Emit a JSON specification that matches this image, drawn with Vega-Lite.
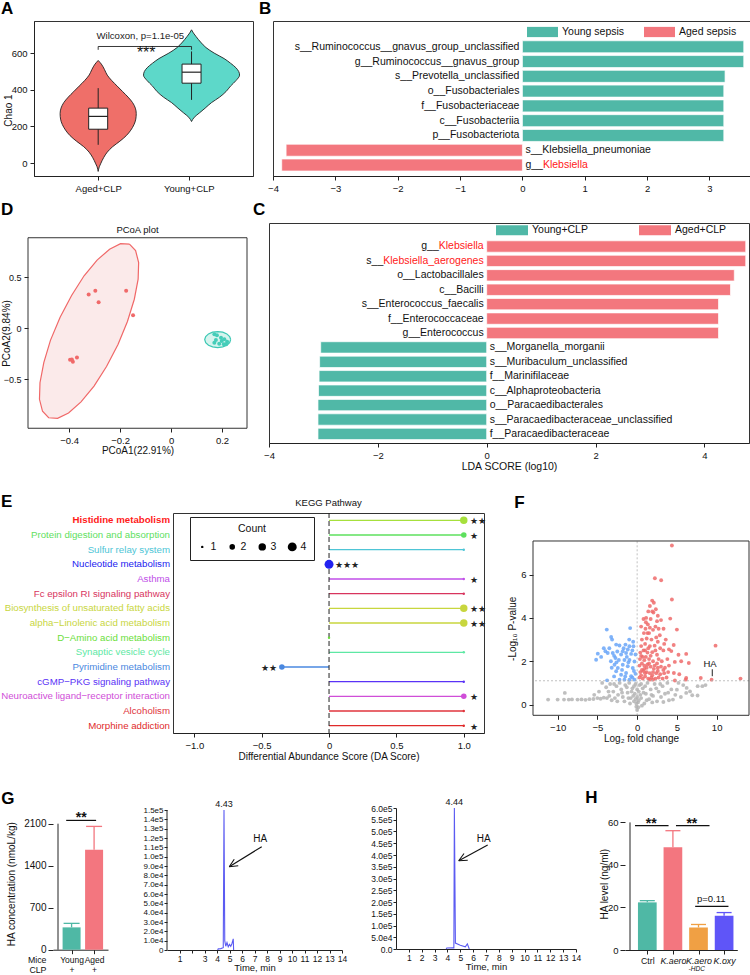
{
"$schema":"https://vega.github.io/schema/vega-lite/v6.json",
"background":"white",
"padding":{"left":0,"top":0,"right":0,"bottom":0},
"bounds":"full",
"spacing":0,
"resolve":{"scale":{"color":"independent","size":"independent"},"legend":{"color":"independent","size":"independent"}},
"config":{
 "font":"Liberation Sans",
 "view":{"stroke":null},
 "axis":{"labelFont":"Liberation Sans","titleFont":"Liberation Sans","labelFontSize":9.5,"titleFontSize":10,"titleFontWeight":"normal","labelColor":"#111","titleColor":"#111","tickColor":"#222","domainColor":"#222","grid":false,"tickSize":4,"labelPadding":3,"titlePadding":3,"labelOverlap":false,"tickCount":40},
 "legend":{"labelFont":"Liberation Sans","titleFont":"Liberation Sans","labelColor":"#111","titleColor":"#111"},
 "title":{"font":"Liberation Sans","fontSize":17,"fontWeight":"bold","anchor":"start","frame":"group","baseline":"alphabetic","color":"#000","offset":3}
},
"datasets":{
 "violinA":[
  {"grp":"Aged","v":-45,"lo":1,"hi":1},{"grp":"Aged","v":-20,"lo":0.988,"hi":1.012},{"grp":"Aged","v":0,"lo":0.97,"hi":1.03},{"grp":"Aged","v":30,"lo":0.94,"hi":1.06},{"grp":"Aged","v":60,"lo":0.9,"hi":1.1},{"grp":"Aged","v":90,"lo":0.84,"hi":1.16},{"grp":"Aged","v":120,"lo":0.76,"hi":1.24},{"grp":"Aged","v":150,"lo":0.69,"hi":1.31},{"grp":"Aged","v":180,"lo":0.64,"hi":1.36},{"grp":"Aged","v":210,"lo":0.605,"hi":1.395},{"grp":"Aged","v":240,"lo":0.585,"hi":1.415},{"grp":"Aged","v":270,"lo":0.58,"hi":1.42},{"grp":"Aged","v":300,"lo":0.59,"hi":1.41},{"grp":"Aged","v":330,"lo":0.62,"hi":1.38},{"grp":"Aged","v":360,"lo":0.67,"hi":1.33},{"grp":"Aged","v":390,"lo":0.73,"hi":1.27},{"grp":"Aged","v":420,"lo":0.79,"hi":1.21},{"grp":"Aged","v":450,"lo":0.85,"hi":1.15},{"grp":"Aged","v":480,"lo":0.9,"hi":1.1},{"grp":"Aged","v":510,"lo":0.93,"hi":1.07},{"grp":"Aged","v":540,"lo":0.965,"hi":1.035},{"grp":"Aged","v":560,"lo":1,"hi":1},
  {"grp":"Young","v":227,"lo":2.03,"hi":2.03},{"grp":"Young","v":250,"lo":2.0,"hi":2.06},{"grp":"Young","v":275,"lo":1.94,"hi":2.12},{"grp":"Young","v":300,"lo":1.88,"hi":2.18},{"grp":"Young","v":330,"lo":1.81,"hi":2.25},{"grp":"Young","v":360,"lo":1.72,"hi":2.34},{"grp":"Young","v":390,"lo":1.65,"hi":2.41},{"grp":"Young","v":420,"lo":1.6,"hi":2.46},{"grp":"Young","v":450,"lo":1.54,"hi":2.52},{"grp":"Young","v":480,"lo":1.5,"hi":2.56},{"grp":"Young","v":500,"lo":1.51,"hi":2.55},{"grp":"Young","v":520,"lo":1.54,"hi":2.52},{"grp":"Young","v":545,"lo":1.6,"hi":2.46},{"grp":"Young","v":570,"lo":1.67,"hi":2.39},{"grp":"Young","v":600,"lo":1.78,"hi":2.28},{"grp":"Young","v":630,"lo":1.87,"hi":2.19},{"grp":"Young","v":660,"lo":1.93,"hi":2.13},{"grp":"Young","v":690,"lo":1.98,"hi":2.08},{"grp":"Young","v":710,"lo":2.01,"hi":2.05},{"grp":"Young","v":727,"lo":2.03,"hi":2.03}
 ],
 "boxA":[{"gx":1,"q1":185,"q3":300,"med":255,"wlo":100,"whi":409},{"gx":2.03,"q1":436,"q3":540,"med":496,"wlo":345,"whi":609}],
 "bracketA":[{"bx":1,"by":618,"k":1},{"bx":1,"by":636,"k":2},{"bx":2.03,"by":636,"k":3},{"bx":2.03,"by":618,"k":4}],
 "ldaB":[
  {"taxon":"s__Ruminococcus__gnavus_group_unclassified","lda":3.55,"grp":"Young sepsis"},
  {"taxon":"g__Ruminococcus__gnavus_group","lda":3.55,"grp":"Young sepsis"},
  {"taxon":"s__Prevotella_unclassified","lda":3.25,"grp":"Young sepsis"},
  {"taxon":"o__Fusobacteriales","lda":3.23,"grp":"Young sepsis"},
  {"taxon":"f__Fusobacteriaceae","lda":3.23,"grp":"Young sepsis"},
  {"taxon":"c__Fusobacteriia","lda":3.23,"grp":"Young sepsis"},
  {"taxon":"p__Fusobacteriota","lda":3.23,"grp":"Young sepsis"},
  {"taxon":"s__Klebsiella_pneumoniae","lda":-3.79,"grp":"Aged sepsis"},
  {"taxon":"g__Klebsiella","lda":-3.86,"grp":"Aged sepsis"}
 ],
 "ldaC":[
  {"taxon":"g__Klebsiella","lda":4.76,"grp":"Aged+CLP"},
  {"taxon":"s__Klebsiella_aerogenes","lda":4.76,"grp":"Aged+CLP"},
  {"taxon":"o__Lactobacillales","lda":4.55,"grp":"Aged+CLP"},
  {"taxon":"c__Bacilli","lda":4.48,"grp":"Aged+CLP"},
  {"taxon":"s__Enterococcus_faecalis","lda":4.26,"grp":"Aged+CLP"},
  {"taxon":"f__Enterococcaceae","lda":4.26,"grp":"Aged+CLP"},
  {"taxon":"g__Enterococcus","lda":4.26,"grp":"Aged+CLP"},
  {"taxon":"s__Morganella_morganii","lda":-3.05,"grp":"Young+CLP"},
  {"taxon":"s__Muribaculum_unclassified","lda":-3.07,"grp":"Young+CLP"},
  {"taxon":"f__Marinifilaceae","lda":-3.08,"grp":"Young+CLP"},
  {"taxon":"c__Alphaproteobacteria","lda":-3.09,"grp":"Young+CLP"},
  {"taxon":"o__Paracaedibacterales","lda":-3.1,"grp":"Young+CLP"},
  {"taxon":"s__Paracaedibacteraceae_unclassified","lda":-3.1,"grp":"Young+CLP"},
  {"taxon":"f__Paracaedibacteraceae","lda":-3.1,"grp":"Young+CLP"}
 ],
 "ellRed":[
  {"i":0,"x":-0.163,"y":0.822},{"i":1,"x":-0.198,"y":0.827},{"i":2,"x":-0.241,"y":0.773},{"i":3,"x":-0.29,"y":0.666},{"i":4,"x":-0.341,"y":0.513},{"i":5,"x":-0.39,"y":0.321},{"i":6,"x":-0.435,"y":0.107},{"i":7,"x":-0.473,"y":-0.118},{"i":8,"x":-0.499,"y":-0.335},{"i":9,"x":-0.514,"y":-0.532},{"i":10,"x":-0.516,"y":-0.694},{"i":11,"x":-0.504,"y":-0.811},{"i":12,"x":-0.48,"y":-0.874},{"i":13,"x":-0.445,"y":-0.88},{"i":14,"x":-0.402,"y":-0.827},{"i":15,"x":-0.353,"y":-0.719},{"i":16,"x":-0.302,"y":-0.565},{"i":17,"x":-0.253,"y":-0.374},{"i":18,"x":-0.208,"y":-0.159},{"i":19,"x":-0.171,"y":0.066},{"i":20,"x":-0.144,"y":0.284},{"i":21,"x":-0.129,"y":0.481},{"i":22,"x":-0.127,"y":0.642},{"i":23,"x":-0.139,"y":0.76},{"i":24,"x":-0.163,"y":0.822}
 ],
 "ellTeal":[
  {"i":0,"x":0.234,"y":-0.11},{"i":1,"x":0.23,"y":-0.08},{"i":2,"x":0.219,"y":-0.055},{"i":3,"x":0.203,"y":-0.038},{"i":4,"x":0.183,"y":-0.032},{"i":5,"x":0.163,"y":-0.038},{"i":6,"x":0.147,"y":-0.055},{"i":7,"x":0.136,"y":-0.08},{"i":8,"x":0.132,"y":-0.11},{"i":9,"x":0.136,"y":-0.14},{"i":10,"x":0.147,"y":-0.165},{"i":11,"x":0.163,"y":-0.182},{"i":12,"x":0.183,"y":-0.188},{"i":13,"x":0.203,"y":-0.182},{"i":14,"x":0.219,"y":-0.165},{"i":15,"x":0.23,"y":-0.14},{"i":16,"x":0.234,"y":-0.11}
 ],
 "pcoa":[
  {"g":"Aged","x":-0.323,"y":0.33},{"g":"Aged","x":-0.297,"y":0.366},{"g":"Aged","x":-0.284,"y":0.255},{"g":"Aged","x":-0.176,"y":0.366},{"g":"Aged","x":-0.149,"y":0.127},{"g":"Aged","x":-0.396,"y":-0.308},{"g":"Aged","x":-0.385,"y":-0.328},{"g":"Aged","x":-0.369,"y":-0.285},{"g":"Aged","x":-0.389,"y":-0.304},
  {"g":"Young","x":0.17,"y":-0.059},{"g":"Young","x":0.18,"y":-0.069},{"g":"Young","x":0.196,"y":-0.092},{"g":"Young","x":0.176,"y":-0.114},{"g":"Young","x":0.199,"y":-0.124},{"g":"Young","x":0.209,"y":-0.108},{"g":"Young","x":0.22,"y":-0.131},{"g":"Young","x":0.207,"y":-0.157},{"g":"Young","x":0.189,"y":-0.15},{"g":"Young","x":0.17,"y":-0.141},{"g":"Young","x":0.216,"y":-0.157}
 ],
 "kegg":[
  {"path":"Histidine metabolism","da":1,"count":3,"sig":"★★"},
  {"path":"Protein digestion and absorption","da":1,"count":2,"sig":"★"},
  {"path":"Sulfur relay system","da":1,"count":1,"sig":""},
  {"path":"Nucleotide metabolism","da":0,"count":4,"sig":"★★★"},
  {"path":"Asthma","da":1,"count":1,"sig":"★"},
  {"path":"Fc epsilon RI signaling pathway","da":1,"count":1,"sig":""},
  {"path":"Biosynthesis of unsaturated fatty acids","da":1,"count":3,"sig":"★★"},
  {"path":"alpha−Linolenic acid metabolism","da":1,"count":3,"sig":"★★"},
  {"path":"D−Amino acid metabolism","da":0,"count":1,"sig":""},
  {"path":"Synaptic vesicle cycle","da":1,"count":1,"sig":""},
  {"path":"Pyrimidine metabolism","da":-0.35,"count":2,"sig":"★★"},
  {"path":"cGMP−PKG signaling pathway","da":1,"count":1,"sig":""},
  {"path":"Neuroactive ligand−receptor interaction","da":1,"count":2,"sig":"★"},
  {"path":"Alcoholism","da":1,"count":1,"sig":""},
  {"path":"Morphine addiction","da":1,"count":1,"sig":"★"}
 ],
 "volcano":[
  {"x":-11.2,"y":0.23,"s":"ns"},{"x":-10.0,"y":0.23,"s":"ns"},{"x":-9.1,"y":0.54,"s":"ns"},{"x":-9.2,"y":0.23,"s":"ns"},{"x":-8.6,"y":0.23,"s":"ns"},{"x":-8.2,"y":0.24,"s":"ns"},{"x":-7.5,"y":0.23,"s":"ns"},{"x":-7.0,"y":0.24,"s":"ns"},{"x":-6.5,"y":0.22,"s":"ns"},{"x":-6.0,"y":0.25,"s":"ns"},{"x":-5.5,"y":0.26,"s":"ns"},{"x":-5.0,"y":0.3,"s":"ns"},{"x":-4.6,"y":0.27,"s":"ns"},{"x":-4.2,"y":0.32,"s":"ns"},{"x":-3.8,"y":0.3,"s":"ns"},{"x":-3.5,"y":0.4,"s":"ns"},{"x":-5.4,"y":0.45,"s":"ns"},{"x":-4.8,"y":0.6,"s":"ns"},{"x":-3.9,"y":0.8,"s":"ns"},{"x":-3.4,"y":0.95,"s":"ns"},{"x":-3.0,"y":0.6,"s":"ns"},{"x":-2.6,"y":0.85,"s":"ns"},{"x":-2.2,"y":1.0,"s":"ns"},{"x":-2.8,"y":0.3,"s":"ns"},{"x":-2.4,"y":0.45,"s":"ns"},{"x":-2.0,"y":0.7,"s":"ns"},{"x":-1.8,"y":0.35,"s":"ns"},{"x":-1.5,"y":0.9,"s":"ns"},{"x":-1.2,"y":0.55,"s":"ns"},{"x":-1.0,"y":1.0,"s":"ns"},{"x":-0.8,"y":0.3,"s":"ns"},{"x":-0.6,"y":0.75,"s":"ns"},{"x":-0.4,"y":0.15,"s":"ns"},{"x":-0.3,"y":0.5,"s":"ns"},{"x":-0.2,"y":0.95,"s":"ns"},{"x":-0.1,"y":-0.1,"s":"ns"},{"x":0.0,"y":-0.25,"s":"ns"},{"x":0.1,"y":0.1,"s":"ns"},{"x":0.2,"y":0.6,"s":"ns"},{"x":0.3,"y":0.9,"s":"ns"},{"x":0.5,"y":0.3,"s":"ns"},{"x":0.7,"y":0.75,"s":"ns"},{"x":0.9,"y":0.05,"s":"ns"},{"x":1.1,"y":0.5,"s":"ns"},{"x":1.3,"y":1.0,"s":"ns"},{"x":1.5,"y":0.25,"s":"ns"},{"x":1.7,"y":0.7,"s":"ns"},{"x":2.0,"y":0.4,"s":"ns"},{"x":2.2,"y":0.95,"s":"ns"},{"x":2.5,"y":0.15,"s":"ns"},{"x":2.7,"y":0.6,"s":"ns"},{"x":3.0,"y":0.35,"s":"ns"},{"x":3.2,"y":0.85,"s":"ns"},{"x":3.5,"y":0.5,"s":"ns"},{"x":3.8,"y":1.0,"s":"ns"},{"x":4.0,"y":0.2,"s":"ns"},{"x":4.3,"y":0.7,"s":"ns"},{"x":4.5,"y":0.23,"s":"ns"},{"x":4.8,"y":0.45,"s":"ns"},{"x":5.0,"y":0.69,"s":"ns"},{"x":5.5,"y":0.35,"s":"ns"},{"x":5.8,"y":0.9,"s":"ns"},{"x":6.17,"y":0.54,"s":"ns"},{"x":6.23,"y":0.77,"s":"ns"},{"x":6.65,"y":0.61,"s":"ns"},{"x":6.93,"y":0.43,"s":"ns"},{"x":7.6,"y":0.42,"s":"ns"},{"x":7.61,"y":0.85,"s":"ns"},{"x":8.2,"y":0.85,"s":"ns"},{"x":8.6,"y":0.9,"s":"ns"},{"x":-1.6,"y":0.15,"s":"ns"},{"x":-0.9,"y":0.05,"s":"ns"},{"x":0.6,"y":-0.05,"s":"ns"},{"x":1.9,"y":0.1,"s":"ns"},{"x":-2.5,"y":0.15,"s":"ns"},{"x":3.3,"y":0.12,"s":"ns"},{"x":-3.2,"y":0.2,"s":"ns"},{"x":2.4,"y":0.75,"s":"ns"},{"x":-0.5,"y":0.4,"s":"ns"},{"x":0.4,"y":0.45,"s":"ns"},{"x":1.0,"y":0.85,"s":"ns"},{"x":-1.3,"y":0.8,"s":"ns"},{"x":5.2,"y":1.0,"s":"ns"},{"x":-4.4,"y":1.0,"s":"ns"},{"x":-0.2,"y":0.25,"s":"ns"},{"x":0.2,"y":0.2,"s":"ns"},{"x":-0.7,"y":0.6,"s":"ns"},{"x":0.8,"y":0.55,"s":"ns"},{"x":-1.1,"y":0.3,"s":"ns"},{"x":1.2,"y":0.2,"s":"ns"},{"x":-0.4,"y":0.85,"s":"ns"},{"x":0.5,"y":0.95,"s":"ns"},{"x":-2.9,"y":0.95,"s":"ns"},{"x":2.9,"y":0.95,"s":"ns"},{"x":-1.9,"y":0.55,"s":"ns"},{"x":1.8,"y":0.45,"s":"ns"},{"x":3.9,"y":0.55,"s":"ns"},{"x":-3.6,"y":0.6,"s":"ns"},{"x":0.0,"y":0.35,"s":"ns"},{"x":0.0,"y":0.7,"s":"ns"},{"x":-0.1,"y":0.05,"s":"ns"},{"x":0.15,"y":-0.12,"s":"ns"},
  {"x":-3.82,"y":3.46,"s":"down"},{"x":-0.88,"y":3.53,"s":"down"},{"x":-3.27,"y":3.12,"s":"down"},{"x":-3.15,"y":3.0,"s":"down"},{"x":-2.64,"y":2.77,"s":"down"},{"x":-2.22,"y":2.73,"s":"down"},{"x":-1.47,"y":2.77,"s":"down"},{"x":-0.97,"y":2.69,"s":"down"},{"x":-0.46,"y":2.69,"s":"down"},{"x":-4.95,"y":2.35,"s":"down"},{"x":-4.53,"y":2.2,"s":"down"},{"x":-5.16,"y":2.07,"s":"down"},{"x":-3.99,"y":2.46,"s":"down"},{"x":-3.7,"y":2.38,"s":"down"},{"x":-2.73,"y":2.15,"s":"down"},{"x":-2.02,"y":2.31,"s":"down"},{"x":-1.39,"y":2.38,"s":"down"},{"x":-0.76,"y":2.34,"s":"down"},{"x":-0.21,"y":2.31,"s":"down"},{"x":-2.85,"y":1.84,"s":"down"},{"x":-2.43,"y":1.69,"s":"down"},{"x":-1.81,"y":1.84,"s":"down"},{"x":-1.18,"y":1.77,"s":"down"},{"x":-0.55,"y":1.69,"s":"down"},{"x":-2.64,"y":1.54,"s":"down"},{"x":-2.02,"y":1.38,"s":"down"},{"x":-1.39,"y":1.46,"s":"down"},{"x":-0.76,"y":1.31,"s":"down"},{"x":-0.21,"y":1.42,"s":"down"},{"x":-3.78,"y":1.12,"s":"down"},{"x":-2.22,"y":1.15,"s":"down"},{"x":-1.6,"y":1.15,"s":"down"},{"x":-0.97,"y":1.15,"s":"down"},{"x":-0.34,"y":1.15,"s":"down"},{"x":-1.81,"y":2.46,"s":"down"},{"x":-1.18,"y":2.54,"s":"down"},{"x":-2.3,"y":2.06,"s":"down"},{"x":-1.6,"y":2.06,"s":"down"},{"x":-0.97,"y":2.06,"s":"down"},{"x":-0.34,"y":1.99,"s":"down"},{"x":-3.07,"y":2.38,"s":"down"},{"x":-3.5,"y":2.6,"s":"down"},{"x":-1.0,"y":3.0,"s":"down"},{"x":-0.5,"y":2.9,"s":"down"},{"x":-1.7,"y":2.6,"s":"down"},{"x":-2.5,"y":2.45,"s":"down"},{"x":-0.6,"y":2.5,"s":"down"},{"x":-1.3,"y":2.2,"s":"down"},{"x":-2.9,"y":2.25,"s":"down"},{"x":-1.9,"y":1.6,"s":"down"},{"x":-0.4,"y":1.55,"s":"down"},{"x":-1.1,"y":1.95,"s":"down"},{"x":-2.6,"y":1.95,"s":"down"},{"x":-3.2,"y":1.7,"s":"down"},{"x":-1.5,"y":1.3,"s":"down"},{"x":-2.9,"y":1.3,"s":"down"},{"x":-0.6,"y":1.25,"s":"down"},{"x":-4.2,"y":2.6,"s":"down"},{"x":-3.3,"y":2.0,"s":"down"},
  {"x":4.37,"y":7.34,"s":"up"},{"x":2.23,"y":5.83,"s":"up"},{"x":3.02,"y":5.74,"s":"up"},{"x":4.37,"y":4.85,"s":"up"},{"x":1.89,"y":4.8,"s":"up"},{"x":2.1,"y":4.7,"s":"up"},{"x":1.6,"y":4.55,"s":"up"},{"x":2.35,"y":4.4,"s":"up"},{"x":2.05,"y":4.25,"s":"up"},{"x":1.13,"y":4.0,"s":"up"},{"x":4.16,"y":3.97,"s":"up"},{"x":2.5,"y":3.85,"s":"up"},{"x":1.7,"y":3.95,"s":"up"},{"x":1.35,"y":3.7,"s":"up"},{"x":5.0,"y":3.46,"s":"up"},{"x":3.32,"y":3.5,"s":"up"},{"x":2.85,"y":3.2,"s":"up"},{"x":1.05,"y":3.5,"s":"up"},{"x":0.85,"y":3.3,"s":"up"},{"x":1.5,"y":3.3,"s":"up"},{"x":2.0,"y":3.45,"s":"up"},{"x":2.4,"y":3.1,"s":"up"},{"x":3.6,"y":3.0,"s":"up"},{"x":0.6,"y":3.0,"s":"up"},{"x":1.2,"y":3.05,"s":"up"},{"x":1.8,"y":3.0,"s":"up"},{"x":9.86,"y":2.72,"s":"up"},{"x":0.5,"y":2.7,"s":"up"},{"x":1.0,"y":2.8,"s":"up"},{"x":1.6,"y":2.7,"s":"up"},{"x":2.2,"y":2.72,"s":"up"},{"x":2.9,"y":2.6,"s":"up"},{"x":3.3,"y":2.5,"s":"up"},{"x":4.3,"y":2.47,"s":"up"},{"x":6.17,"y":2.34,"s":"up"},{"x":0.4,"y":2.4,"s":"up"},{"x":0.8,"y":2.5,"s":"up"},{"x":1.3,"y":2.4,"s":"up"},{"x":1.9,"y":2.42,"s":"up"},{"x":2.5,"y":2.3,"s":"up"},{"x":0.35,"y":2.1,"s":"up"},{"x":0.7,"y":2.2,"s":"up"},{"x":1.1,"y":2.2,"s":"up"},{"x":1.5,"y":2.1,"s":"up"},{"x":2.0,"y":2.0,"s":"up"},{"x":2.7,"y":2.1,"s":"up"},{"x":3.1,"y":2.0,"s":"up"},{"x":3.8,"y":2.1,"s":"up"},{"x":4.74,"y":1.97,"s":"up"},{"x":5.54,"y":2.0,"s":"up"},{"x":6.5,"y":1.92,"s":"up"},{"x":0.3,"y":1.8,"s":"up"},{"x":0.6,"y":1.9,"s":"up"},{"x":0.9,"y":1.8,"s":"up"},{"x":1.3,"y":1.85,"s":"up"},{"x":1.7,"y":1.75,"s":"up"},{"x":2.2,"y":1.8,"s":"up"},{"x":2.6,"y":1.7,"s":"up"},{"x":3.0,"y":1.75,"s":"up"},{"x":3.5,"y":1.7,"s":"up"},{"x":4.0,"y":1.8,"s":"up"},{"x":0.4,"y":1.5,"s":"up"},{"x":0.8,"y":1.55,"s":"up"},{"x":1.2,"y":1.5,"s":"up"},{"x":1.6,"y":1.45,"s":"up"},{"x":2.0,"y":1.5,"s":"up"},{"x":2.4,"y":1.45,"s":"up"},{"x":2.9,"y":1.4,"s":"up"},{"x":3.4,"y":1.45,"s":"up"},{"x":3.9,"y":1.5,"s":"up"},{"x":4.62,"y":1.46,"s":"up"},{"x":0.3,"y":1.25,"s":"up"},{"x":0.7,"y":1.2,"s":"up"},{"x":1.0,"y":1.3,"s":"up"},{"x":1.4,"y":1.2,"s":"up"},{"x":1.8,"y":1.25,"s":"up"},{"x":2.3,"y":1.2,"s":"up"},{"x":2.7,"y":1.25,"s":"up"},{"x":3.2,"y":1.2,"s":"up"},{"x":3.7,"y":1.25,"s":"up"},{"x":4.75,"y":1.11,"s":"up"},{"x":6.17,"y":1.23,"s":"up"},{"x":6.1,"y":1.15,"s":"up"},{"x":8.0,"y":1.23,"s":"up"},{"x":9.36,"y":1.15,"s":"up"},{"x":13.0,"y":1.2,"s":"up"},{"x":5.3,"y":1.4,"s":"up"},{"x":0.5,"y":3.6,"s":"up"},{"x":0.8,"y":3.95,"s":"up"},{"x":1.9,"y":4.3,"s":"up"},{"x":1.4,"y":4.3,"s":"up"},{"x":2.6,"y":4.1,"s":"up"},{"x":1.0,"y":2.5,"s":"up"},{"x":1.4,"y":2.6,"s":"up"},{"x":1.7,"y":2.25,"s":"up"},{"x":2.3,"y":2.5,"s":"up"},{"x":0.5,"y":2.25,"s":"up"},{"x":0.9,"y":2.05,"s":"up"},{"x":1.2,"y":1.7,"s":"up"},{"x":1.5,"y":1.9,"s":"up"},{"x":2.1,"y":1.65,"s":"up"},{"x":2.5,"y":1.9,"s":"up"},{"x":0.6,"y":1.6,"s":"up"},{"x":1.0,"y":1.45,"s":"up"},{"x":1.9,"y":1.35,"s":"up"},{"x":2.6,"y":1.55,"s":"up"},{"x":3.3,"y":1.6,"s":"up"},{"x":1.6,"y":1.15,"s":"up"},{"x":2.0,"y":1.15,"s":"up"},{"x":0.5,"y":1.35,"s":"up"},{"x":0.9,"y":1.65,"s":"up"},{"x":1.1,"y":3.8,"s":"up"},{"x":1.6,"y":3.55,"s":"up"},{"x":2.3,"y":3.6,"s":"up"},{"x":2.7,"y":3.5,"s":"up"},{"x":3.0,"y":3.9,"s":"up"},{"x":1.3,"y":3.3,"s":"up"},{"x":2.6,"y":2.9,"s":"up"},{"x":3.4,"y":2.8,"s":"up"},{"x":4.6,"y":2.75,"s":"up"},{"x":5.2,"y":2.3,"s":"up"},{"x":4.0,"y":2.55,"s":"up"}
 ],
 "gbar":[{"grp":"Young","gx":1,"conc":372,"hi":439},{"grp":"Aged","gx":2,"conc":1666,"hi":2055}],
 "chrom1":[{"t":4.05,"a":0},{"t":4.1,"a":1200},{"t":4.3,"a":1500},{"t":4.5,"a":2500},{"t":4.56,"a":150000},{"t":4.62,"a":10000},{"t":4.7,"a":4000},{"t":4.8,"a":8000},{"t":4.9,"a":3500},{"t":5.0,"a":6000},{"t":5.1,"a":4000},{"t":5.2,"a":7000},{"t":5.3,"a":12000},{"t":5.33,"a":0}],
 "chrom2":[{"t":3.9,"a":0},{"t":3.95,"a":4000},{"t":4.4,"a":5000},{"t":4.5,"a":5000},{"t":4.54,"a":600000},{"t":4.62,"a":25000},{"t":5.0,"a":16000},{"t":5.39,"a":9000},{"t":5.55,"a":22000},{"t":5.7,"a":0}],
 "arrow1":[{"x":7.58,"y":110680,"x2":4.98,"y2":89250},{"x":4.98,"y":89250,"x2":5.7,"y2":90320},{"x":4.98,"y":89250,"x2":5.38,"y2":97290}],
 "arrow2":[{"x":7.13,"y":442500,"x2":4.88,"y2":375700},{"x":4.88,"y":375700,"x2":5.58,"y2":377800},{"x":4.88,"y":375700,"x2":5.29,"y2":406400}],
 "hbar":[{"grp":"Ctrl","hx":1,"v":22.4,"hi":23.2},{"grp":"K.aero","hx":2,"v":48.3,"hi":56.1},{"grp":"K.aero-HDC","hx":3,"v":10.6,"hi":12.0},{"grp":"K.oxy","hx":4,"v":16.1,"hi":17.6}],
 "hbrk":[{"x1":0.52,"x2":1.83,"y":58.5,"m":1.15,"lab":"**"},{"x1":2.12,"x2":3.43,"y":58.5,"m":2.74,"lab":"**"}]
},
"vconcat":[
 {"hconcat":[
  {"data":{"values":[]},"mark":"point","width":6,"height":1,"title":{"text":"A","dx":-27,"offset":3}},
  {"width":219,"height":155,"view":{"stroke":"#333","strokeWidth":1},
   "layer":[
    {"data":{"name":"violinA"},"mark":{"type":"area","orient":"horizontal","interpolate":"monotone","stroke":"#222","strokeWidth":0.9,"opacity":1},
     "encoding":{
      "y":{"field":"v","type":"quantitative","scale":{"domain":[-70,775],"nice":false,"zero":false},"axis":{"values":[0,200,400,600],"format":"d","title":"Chao 1","titleX":-21,"titleY":89,"titleBaseline":"bottom","titleAlign":"center","titleAngle":-90}},
      "x":{"field":"lo","type":"quantitative","stack":null,"scale":{"domain":[0.347,2.653],"nice":false,"zero":false},"axis":{"values":[1,2],"labelExpr":"datum.value==1?'Aged+CLP':'Young+CLP'","title":null,"labelFlush":false}},
      "x2":{"field":"hi"},
      "color":{"field":"grp","type":"nominal","scale":{"domain":["Aged","Young"],"range":["#ef6f69","#5dd8c9"]},"legend":null}}},
    {"data":{"name":"boxA"},"mark":{"type":"rule","color":"#222","strokeWidth":1},
     "encoding":{"x":{"field":"gx","type":"quantitative"},"y":{"field":"wlo","type":"quantitative"},"y2":{"field":"whi"}}},
    {"data":{"name":"boxA"},"mark":{"type":"bar","width":19,"fill":"white","stroke":"#222","strokeWidth":1,"orient":"vertical"},
     "encoding":{"x":{"field":"gx","type":"quantitative"},"y":{"field":"q1","type":"quantitative"},"y2":{"field":"q3"}}},
    {"data":{"name":"boxA"},"mark":{"type":"tick","orient":"horizontal","size":19,"thickness":1.2,"color":"#222","opacity":1},
     "encoding":{"x":{"field":"gx","type":"quantitative"},"y":{"field":"med","type":"quantitative"}}},
    {"data":{"name":"bracketA"},"mark":{"type":"line","color":"#222","strokeWidth":0.9},
     "encoding":{"x":{"field":"bx","type":"quantitative"},"y":{"field":"by","type":"quantitative"},"order":{"field":"k","type":"quantitative"}}},
    {"data":{"values":[{"tx":1.53,"ty":599,"lab":"***"}]},"mark":{"type":"text","fontSize":16,"color":"#111"},
     "encoding":{"x":{"field":"tx","type":"quantitative"},"y":{"field":"ty","type":"quantitative"},"text":{"field":"lab"}}},
    {"data":{"values":[{"tx":1.465,"ty":695,"lab":"Wilcoxon, p=1.1e-05"}]},"mark":{"type":"text","fontSize":9.6,"color":"#222"},
     "encoding":{"x":{"field":"tx","type":"quantitative"},"y":{"field":"ty","type":"quantitative"},"text":{"field":"lab"}}}
   ]},
  {"data":{"values":[]},"mark":"point","width":20,"height":1,"title":{"text":"B","dx":6,"offset":3}},
  {"width":477,"height":155,"view":{"stroke":"#333","strokeWidth":1},"data":{"name":"ldaB"},
   "layer":[
    {"mark":{"type":"bar","stroke":"white","strokeWidth":0.7},
     "encoding":{
      "y":{"field":"taxon","type":"nominal","scale":{"domain":["(legend)","s__Ruminococcus__gnavus_group_unclassified","g__Ruminococcus__gnavus_group","s__Prevotella_unclassified","o__Fusobacteriales","f__Fusobacteriaceae","c__Fusobacteriia","p__Fusobacteriota","s__Klebsiella_pneumoniae","g__Klebsiella"],"paddingInner":0.188,"paddingOuter":0.338},"axis":null},
      "x":{"field":"lda","type":"quantitative","stack":null,"scale":{"domain":[-4,3.65],"nice":false,"zero":false},"axis":{"values":[-4,-3,-2,-1,0,1,2,3],"format":"d","title":null,"labelFlush":false}},
      "color":{"field":"grp","type":"nominal","scale":{"domain":["Young sepsis","Aged sepsis"],"range":["#50b8a7","#f3777e"]},
        "legend":{"orient":"none","legendX":254,"legendY":-4.5,"direction":"horizontal","title":null,"symbolType":"M-1,-0.33H1V0.33H-1Z","symbolSize":961,"symbolStrokeWidth":0,"labelFontSize":10.5,"labelOffset":4,"columnPadding":19,"padding":0,"labelLimit":0}}}},
    {"transform":[{"filter":"datum.lda>0"}],"mark":{"type":"text","align":"right","dx":-3,"fontSize":10.5,"baseline":"middle","color":"#111"},
     "encoding":{"y":{"field":"taxon","type":"nominal"},"x":{"datum":0},"text":{"field":"taxon"}}},
    {"transform":[{"filter":"datum.lda<0 && datum.taxon!='g__Klebsiella'"}],"mark":{"type":"text","align":"left","dx":3,"fontSize":10.5,"baseline":"middle","color":"#111"},
     "encoding":{"y":{"field":"taxon","type":"nominal"},"x":{"datum":0},"text":{"field":"taxon"}}},
    {"transform":[{"filter":"datum.taxon=='g__Klebsiella'"}],"mark":{"type":"text","align":"left","dx":3,"fontSize":10.5,"baseline":"middle","color":"#111"},
     "encoding":{"y":{"field":"taxon","type":"nominal"},"x":{"datum":0},"text":{"value":"g__"}}},
    {"transform":[{"filter":"datum.taxon=='g__Klebsiella'"}],"mark":{"type":"text","align":"left","dx":20.5,"fontSize":10.5,"baseline":"middle","color":"#ff2020"},
     "encoding":{"y":{"field":"taxon","type":"nominal"},"x":{"datum":0},"text":{"value":"Klebsiella"}}}
   ]}
 ],"spacing":0,"bounds":"flush","resolve":{"scale":{"color":"independent","size":"independent"},"legend":{"color":"independent","size":"independent"}}},
 {"data":{"values":[]},"mark":"point","width":1,"height":8},
 {"hconcat":[
  {"width":219,"height":220,"title":{"text":"D","dx":-27,"offset":3.7},
   "layer":[
    {"data":{"values":[{}]},"mark":{"type":"rect","fillOpacity":0,"stroke":"#333","strokeWidth":1},
     "encoding":{"x":{"datum":-0.561,"type":"quantitative"},"x2":{"datum":0.298},"y":{"datum":-0.977,"type":"quantitative"},"y2":{"datum":0.885}}},
    {"data":{"name":"ellRed"},"mark":{"type":"line","fill":"#fbeaea","stroke":"#f06868","strokeWidth":1.2},
     "encoding":{
      "x":{"field":"x","type":"quantitative","scale":{"domain":[-0.561,0.298],"nice":false,"zero":false},"axis":{"values":[-0.4,-0.2,0,0.2],"labelExpr":"datum.value==0?'0':format(datum.value,'.1f')","title":"PCoA1(22.91%)","titlePadding":1,"labelFlush":false,"offset":-15,"domain":false}},
      "y":{"field":"y","type":"quantitative","scale":{"domain":[-1.121,1.029],"nice":false,"zero":false},"axis":{"values":[-0.5,0,0.5],"labelExpr":"datum.value==0?'0':format(datum.value,'.1f')","title":"PCoA2(9.84%)","titleX":-17,"titleBaseline":"bottom","titleAngle":-90,"titleAlign":"center","domain":false,"labelFontSize":9}},
      "order":{"field":"i","type":"quantitative"}}},
    {"data":{"name":"ellTeal"},"mark":{"type":"line","fill":"#d6f4ee","stroke":"#3cc8b4","strokeWidth":1.2},
     "encoding":{"x":{"field":"x","type":"quantitative"},"y":{"field":"y","type":"quantitative"},"order":{"field":"i","type":"quantitative"}}},
    {"data":{"name":"pcoa"},"mark":{"type":"circle","size":16,"opacity":1},
     "encoding":{"x":{"field":"x","type":"quantitative"},"y":{"field":"y","type":"quantitative"},
      "color":{"field":"g","type":"nominal","scale":{"domain":["Aged","Young"],"range":["#f06a6a","#45cdb9"]},"legend":null}}},
    {"data":{"values":[{"x":-0.1315,"y":0.965,"t":"PCoA plot"}]},"mark":{"type":"text","fontSize":9.5,"baseline":"middle","color":"#111"},
     "encoding":{"x":{"field":"x","type":"quantitative"},"y":{"field":"y","type":"quantitative"},"text":{"field":"t"}}}
   ]},
  {"data":{"values":[]},"mark":"point","width":22,"height":1,"title":{"text":"C","dx":6,"offset":3.7}},
  {"width":480,"height":220,"view":{"stroke":"#333","strokeWidth":1},"data":{"name":"ldaC"},
   "layer":[
    {"mark":{"type":"bar","stroke":"white","strokeWidth":0.7},
     "encoding":{
      "y":{"field":"taxon","type":"nominal","scale":{"domain":["(legend)","g__Klebsiella","s__Klebsiella_aerogenes","o__Lactobacillales","c__Bacilli","s__Enterococcus_faecalis","f__Enterococcaceae","g__Enterococcus","s__Morganella_morganii","s__Muribaculum_unclassified","f__Marinifilaceae","c__Alphaproteobacteria","o__Paracaedibacterales","s__Paracaedibacteraceae_unclassified","f__Paracaedibacteraceae"],"paddingInner":0.21,"paddingOuter":0.235},"axis":null},
      "x":{"field":"lda","type":"quantitative","stack":null,"scale":{"domain":[-4,4.82],"nice":false,"zero":false},"axis":{"values":[-4,-2,0,2,4],"format":"d","title":"LDA SCORE  (log10)","titleFontSize":10.5,"titlePadding":2,"labelFlush":false}},
      "color":{"field":"grp","type":"nominal","scale":{"domain":["Young+CLP","Aged+CLP"],"range":["#50b8a7","#f3777e"]},
        "legend":{"orient":"none","legendX":227,"legendY":-9,"direction":"horizontal","title":null,"symbolType":"M-1,-0.3125H1V0.3125H-1Z","symbolSize":1024,"symbolStrokeWidth":0,"labelFontSize":10.5,"labelOffset":4,"columnPadding":51,"padding":0,"labelLimit":0}}}},
    {"transform":[{"filter":"datum.lda>0 && datum.taxon!='g__Klebsiella' && datum.taxon!='s__Klebsiella_aerogenes'"}],"mark":{"type":"text","align":"right","dx":-3,"fontSize":10.5,"baseline":"middle","color":"#111"},
     "encoding":{"y":{"field":"taxon","type":"nominal"},"x":{"datum":0},"text":{"field":"taxon"}}},
    {"transform":[{"filter":"datum.lda<0"}],"mark":{"type":"text","align":"left","dx":3,"fontSize":10.5,"baseline":"middle","color":"#111"},
     "encoding":{"y":{"field":"taxon","type":"nominal"},"x":{"datum":0},"text":{"field":"taxon"}}},
    {"transform":[{"filter":"datum.taxon=='g__Klebsiella'"}],"mark":{"type":"text","align":"right","dx":-3,"fontSize":10.5,"baseline":"middle","color":"#ff2020"},
     "encoding":{"y":{"field":"taxon","type":"nominal"},"x":{"datum":0},"text":{"value":"Klebsiella"}}},
    {"transform":[{"filter":"datum.taxon=='g__Klebsiella'"}],"mark":{"type":"text","align":"right","dx":-47.9,"fontSize":10.5,"baseline":"middle","color":"#111"},
     "encoding":{"y":{"field":"taxon","type":"nominal"},"x":{"datum":0},"text":{"value":"g__"}}},
    {"transform":[{"filter":"datum.taxon=='s__Klebsiella_aerogenes'"}],"mark":{"type":"text","align":"right","dx":-3,"fontSize":10.5,"baseline":"middle","color":"#ff2020"},
     "encoding":{"y":{"field":"taxon","type":"nominal"},"x":{"datum":0},"text":{"value":"Klebsiella_aerogenes"}}},
    {"transform":[{"filter":"datum.taxon=='s__Klebsiella_aerogenes'"}],"mark":{"type":"text","align":"right","dx":-103.4,"fontSize":10.5,"baseline":"middle","color":"#111"},
     "encoding":{"y":{"field":"taxon","type":"nominal"},"x":{"datum":0},"text":{"value":"s__"}}}
   ]}
 ],"spacing":0,"bounds":"flush","resolve":{"scale":{"color":"independent","size":"independent"},"legend":{"color":"independent","size":"independent"}}},
 {"data":{"values":[]},"mark":"point","width":1,"height":18.7},
 {"hconcat":[
  {"data":{"values":[]},"mark":"point","width":144.7,"height":1,"title":{"text":"E","dx":-27,"offset":2.4}},
  {"width":311,"height":220,"view":{"stroke":"#333","strokeWidth":1},"data":{"name":"kegg"},
   "title":{"text":"KEGG Pathway","anchor":"middle","fontSize":9.5,"fontWeight":"normal","offset":5,"color":"#111"},
   "layer":[
    {"mark":{"type":"rule","strokeWidth":1.4},
     "encoding":{
      "y":{"field":"path","type":"nominal","scale":{"domain":["Histidine metabolism","Protein digestion and absorption","Sulfur relay system","Nucleotide metabolism","Asthma","Fc epsilon RI signaling pathway","Biosynthesis of unsaturated fatty acids","alpha−Linolenic acid metabolism","D−Amino acid metabolism","Synaptic vesicle cycle","Pyrimidine metabolism","cGMP−PKG signaling pathway","Neuroactive ligand−receptor interaction","Alcoholism","Morphine addiction"]},"axis":null},
      "x":{"field":"da","type":"quantitative","scale":{"domain":[-1.158,1.15],"nice":false,"zero":false},"axis":{"values":[-1,-0.5,0,0.5,1],"labelExpr":"datum.value==0?'0':format(datum.value,'.1f')","title":"Differential Abundance Score (DA Score)","labelFlush":false,"titlePadding":2}},
      "x2":{"datum":0},
      "color":{"field":"path","type":"nominal","scale":{"domain":["Histidine metabolism","Protein digestion and absorption","Sulfur relay system","Nucleotide metabolism","Asthma","Fc epsilon RI signaling pathway","Biosynthesis of unsaturated fatty acids","alpha−Linolenic acid metabolism","D−Amino acid metabolism","Synaptic vesicle cycle","Pyrimidine metabolism","cGMP−PKG signaling pathway","Neuroactive ligand−receptor interaction","Alcoholism","Morphine addiction"],"range":["#a6e03c","#5ee05e","#4ec5d6","#2222f0","#c04ee8","#d8345e","#c8d63e","#c8d63e","#6ade3a","#5ee8a4","#4a88e0","#5a32f6","#d04ed8","#e0343c","#e02a2a"]},"legend":null}}},
    {"data":{"values":[{}]},"mark":{"type":"rule","strokeDash":[5,3],"color":"#222","strokeWidth":1},"encoding":{"x":{"datum":0,"type":"quantitative"}}},
    {"mark":{"type":"circle","opacity":1},
     "encoding":{
      "y":{"field":"path","type":"nominal"},
      "x":{"field":"da","type":"quantitative"},
      "color":{"field":"path","type":"nominal","legend":null},
      "size":{"field":"count","type":"quantitative","scale":{"domain":[1,4],"range":[6,80]},
        "legend":{"orient":"none","legendX":17,"legendY":4,"direction":"horizontal","title":"Count","titleAnchor":"middle","titleFontSize":10.5,"titleFontWeight":"normal","titlePadding":7,"labelFontSize":10.5,"labelOffset":3,"columnPadding":10,"padding":7,"strokeColor":"#222","fillColor":"white","values":[1,2,3,4],"format":"d","symbolFillColor":"#000","symbolStrokeColor":"#000","symbolStrokeWidth":0,"symbolType":"circle"}}}},
    {"transform":[{"filter":"datum.sig!='' && datum.da>=0"}],"mark":{"type":"text","align":"left","dx":6,"dy":1,"fontSize":8.5,"baseline":"middle","color":"#222"},
     "encoding":{"y":{"field":"path","type":"nominal"},"x":{"field":"da","type":"quantitative"},"text":{"field":"sig"}}},
    {"transform":[{"filter":"datum.sig!='' && datum.da<0"}],"mark":{"type":"text","align":"right","dx":-5,"dy":1,"fontSize":8.5,"baseline":"middle","color":"#222"},
     "encoding":{"y":{"field":"path","type":"nominal"},"x":{"field":"da","type":"quantitative"},"text":{"field":"sig"}}},
    {"transform":[{"filter":"datum.path!='Histidine metabolism'"}],"mark":{"type":"text","align":"right","dx":-3,"fontSize":9.7,"baseline":"middle"},
     "encoding":{"y":{"field":"path","type":"nominal"},"x":{"datum":-1.158},"text":{"field":"path"},"color":{"field":"path","type":"nominal","legend":null}}},
    {"transform":[{"filter":"datum.path=='Histidine metabolism'"}],"mark":{"type":"text","align":"right","dx":-3,"fontSize":9.7,"baseline":"middle","fontWeight":"bold","color":"#ff1a1a"},
     "encoding":{"y":{"field":"path","type":"nominal"},"x":{"datum":-1.158},"text":{"field":"path"}}}
   ]},
  {"data":{"values":[]},"mark":"point","width":49,"height":1},
  {"width":216,"height":202.3,"title":{"text":"F","dx":-18.7,"offset":1},
   "layer":[
    {"data":{"name":"volcano"},"mark":{"type":"circle","size":15,"opacity":0.85},
     "encoding":{
      "x":{"field":"x","type":"quantitative","scale":{"domain":[-13.1,14.07],"nice":false,"zero":false},"axis":{"values":[-10,-5,0,5,10],"format":"d","title":"Log₂ fold change","labelFlush":false,"titlePadding":2,"domain":false}},
      "y":{"field":"y","type":"quantitative","scale":{"domain":[-0.494,8.842],"nice":false,"zero":false},"axis":{"values":[0,2,4,6],"format":"d","title":"-Log₁₀ P-value","titleX":-15.3,"titleY":115.3,"titleBaseline":"bottom","titleAngle":-90,"titleAlign":"center","domain":false}},
      "color":{"field":"s","type":"nominal","scale":{"domain":["ns","down","up"],"range":["#b4b4b4","#6aa6f8","#ef6b6b"]},"legend":null}}},
    {"data":{"values":[{}]},"mark":{"type":"rule","strokeDash":[2,2],"color":"#b0b0b0","strokeWidth":0.8},"encoding":{"y":{"datum":1.1,"type":"quantitative"}}},
    {"data":{"values":[{}]},"mark":{"type":"rule","strokeDash":[2,2],"color":"#b0b0b0","strokeWidth":0.8},"encoding":{"x":{"datum":0,"type":"quantitative"},"y":{"datum":-0.494,"type":"quantitative"},"y2":{"datum":7.55}}},
    {"data":{"values":[{}]},"mark":{"type":"rect","fillOpacity":0,"stroke":"#333","strokeWidth":1},
     "encoding":{"x":{"datum":-13.1,"type":"quantitative"},"x2":{"datum":14.07},"y":{"datum":-0.494,"type":"quantitative"},"y2":{"datum":7.55}}},
    {"data":{"values":[{"x":9.45,"y":1.31,"y2":1.63}]},"mark":{"type":"rule","color":"#222","strokeWidth":1},
     "encoding":{"x":{"field":"x","type":"quantitative"},"y":{"field":"y","type":"quantitative"},"y2":{"field":"y2"}}},
    {"data":{"values":[{"x":9.17,"y":1.87,"t":"HA"}]},"mark":{"type":"text","fontSize":9.5,"baseline":"middle","color":"#111"},
     "encoding":{"x":{"field":"x","type":"quantitative"},"y":{"field":"y","type":"quantitative"},"text":{"field":"t"}}}
   ]}
 ],"spacing":0,"bounds":"flush","resolve":{"scale":{"color":"independent","size":"independent"},"legend":{"color":"independent","size":"independent"}}},
 {"data":{"values":[]},"mark":"point","width":1,"height":26.1},
 {"hconcat":[
  {"data":{"values":[]},"mark":"point","width":24.7,"height":1},
  {"width":55,"height":141.7,"title":{"text":"G","dx":-51.7,"offset":-0.4},
   "layer":[
    {"data":{"name":"gbar"},"mark":{"type":"bar","width":18,"orient":"vertical"},
     "encoding":{
      "x":{"field":"gx","type":"quantitative","scale":{"domain":[0.396,2.396],"nice":false,"zero":false},"axis":{"values":[1,2],"labelExpr":"datum.value==1?['Young','+']:['Aged','+']","labelLineHeight":10,"title":["Mice","CLP"],"titleX":-7,"titleY":6,"titleAlign":"right","titleBaseline":"top","titleLineHeight":10,"titleFontSize":8.8,"labelFontSize":8.5,"tickSize":4,"labelPadding":2,"labelFlush":false}},
      "y":{"field":"conc","type":"quantitative","scale":{"domain":[0,2361.7],"nice":false},"axis":{"values":[0,700,1400,2100],"format":"d","title":"HA concentration (nmoL/kg)","labelFontSize":10,"tickSize":5,"labelPadding":2,"titleX":-36.7,"titleY":75.7,"titleBaseline":"bottom","titleAngle":-90,"titleAlign":"center","domain":false}},
      "y2":{"datum":0},
      "color":{"field":"grp","type":"nominal","scale":{"domain":["Young","Aged"],"range":["#4fb8a5","#f3767f"]},"legend":null}}},
    {"data":{"name":"gbar"},"mark":{"type":"rule","strokeWidth":1.3},
     "encoding":{"x":{"field":"gx","type":"quantitative"},"y":{"field":"conc","type":"quantitative"},"y2":{"field":"hi"},"color":{"field":"grp","type":"nominal","legend":null}}},
    {"data":{"name":"gbar"},"mark":{"type":"tick","orient":"horizontal","size":16,"thickness":1.3,"opacity":1},
     "encoding":{"x":{"field":"gx","type":"quantitative"},"y":{"field":"hi","type":"quantitative"},"color":{"field":"grp","type":"nominal","legend":null}}},
    {"data":{"values":[{"x1":0.76,"x2":2.09,"y":2155,"m":1.43,"lab":"**"}]},"mark":{"type":"rule","color":"#111","strokeWidth":1.2},
     "encoding":{"x":{"field":"x1","type":"quantitative"},"x2":{"field":"x2"},"y":{"field":"y","type":"quantitative"}}},
    {"data":{"values":[{"x1":0.76,"x2":2.09,"y":2155,"m":1.43,"lab":"**"}]},"mark":{"type":"text","fontSize":14,"fontWeight":"bold","color":"#111","baseline":"alphabetic","dy":2},
     "encoding":{"x":{"field":"m","type":"quantitative"},"y":{"field":"y","type":"quantitative"},"text":{"field":"lab"}}},
    {"data":{"values":[{}]},"mark":{"type":"rule","color":"#222","strokeWidth":1},"encoding":{"x":{"datum":0.396,"type":"quantitative"},"y":{"datum":0,"type":"quantitative"},"y2":{"datum":2100}}}
   ]},
  {"data":{"values":[]},"mark":"point","width":58.3,"height":1},
  {"width":175,"height":142,
   "layer":[
    {"data":{"name":"chrom1"},"mark":{"type":"line","color":"#5b5bf2","strokeWidth":1.1},
     "encoding":{
      "x":{"field":"t","type":"quantitative","scale":{"domain":[0,14],"nice":false,"zero":false},"axis":{"values":[1,2,3,4,5,6,7,8,9,10,11,12,13,14],"format":"d","tickCount":40,"labelExpr":"datum.value==2?'':datum.label","title":"Time, min","labelFontSize":8.5,"titleFontSize":9.5,"tickSize":3,"labelPadding":1,"titlePadding":0,"labelOverlap":false,"labelFlush":false}},
      "y":{"field":"a","type":"quantitative","scale":{"domain":[0,152143],"nice":false},"axis":{"values":[0,10000,20000,30000,40000,50000,60000,70000,80000,90000,100000,110000,120000,130000,140000,150000],"tickCount":40,"labelExpr":"datum.value==0?'0':replace(format(datum.value,'.1e'),'+','')","title":null,"labelFontSize":8,"tickSize":3,"labelPadding":1,"labelOverlap":false,"labelFlush":false,"domain":false}}}},
    {"data":{"values":[{"x":4.56,"y":151500,"t":"4.43"}]},"mark":{"type":"text","fontSize":9,"baseline":"bottom","color":"#111"},
     "encoding":{"x":{"field":"x","type":"quantitative"},"y":{"field":"y","type":"quantitative"},"text":{"field":"t"}}},
    {"data":{"values":[{"x":7.46,"y":119000,"t":"HA"}]},"mark":{"type":"text","fontSize":10,"baseline":"middle","color":"#111"},
     "encoding":{"x":{"field":"x","type":"quantitative"},"y":{"field":"y","type":"quantitative"},"text":{"field":"t"}}},
    {"data":{"name":"arrow1"},"mark":{"type":"rule","color":"#111","strokeWidth":1.1},
     "encoding":{"x":{"field":"x","type":"quantitative"},"y":{"field":"y","type":"quantitative"},"x2":{"field":"x2"},"y2":{"field":"y2"}}},
    {"data":{"values":[{}]},"mark":{"type":"rule","color":"#222","strokeWidth":1},"encoding":{"x":{"datum":0,"type":"quantitative"},"y":{"datum":0,"type":"quantitative"},"y2":{"datum":150000}}}
   ]},
  {"data":{"values":[]},"mark":"point","width":54,"height":1},
  {"width":180,"height":141,
   "layer":[
    {"data":{"name":"chrom2"},"mark":{"type":"line","color":"#5b5bf2","strokeWidth":1.1},
     "encoding":{
      "x":{"field":"t","type":"quantitative","scale":{"domain":[0,14],"nice":false,"zero":false},"axis":{"values":[1,2,3,4,5,6,7,8,9,10,11,12,13,14],"format":"d","tickCount":40,"title":"Time, min","labelFontSize":8.5,"titleFontSize":9.5,"tickSize":3,"labelPadding":1,"titlePadding":0,"labelOverlap":false,"labelFlush":false}},
      "y":{"field":"a","type":"quantitative","scale":{"domain":[0,600000],"nice":false},"axis":{"values":[0,50000,100000,150000,200000,250000,300000,350000,400000,450000,500000,550000,600000],"tickCount":40,"labelExpr":"datum.value==0?'0.0':replace(format(datum.value,'.1e'),'+','')","title":null,"labelFontSize":8.5,"tickSize":3,"labelPadding":1,"labelOverlap":false,"labelFlush":false}}}},
    {"data":{"values":[{"x":4.54,"y":606000,"t":"4.44"}]},"mark":{"type":"text","fontSize":9,"baseline":"bottom","color":"#111"},
     "encoding":{"x":{"field":"x","type":"quantitative"},"y":{"field":"y","type":"quantitative"},"text":{"field":"t"}}},
    {"data":{"values":[{"x":6.82,"y":468000,"t":"HA"}]},"mark":{"type":"text","fontSize":10,"baseline":"middle","color":"#111"},
     "encoding":{"x":{"field":"x","type":"quantitative"},"y":{"field":"y","type":"quantitative"},"text":{"field":"t"}}},
    {"data":{"name":"arrow2"},"mark":{"type":"rule","color":"#111","strokeWidth":1.1},
     "encoding":{"x":{"field":"x","type":"quantitative"},"y":{"field":"y","type":"quantitative"},"x2":{"field":"x2"},"y2":{"field":"y2"}}}
   ]},
  {"data":{"values":[]},"mark":"point","width":48.7,"height":1},
  {"width":112.3,"height":142,"title":{"text":"H","dx":-39.7,"offset":0.6},
   "layer":[
    {"data":{"name":"hbar"},"mark":{"type":"bar","width":18.7,"orient":"vertical"},
     "encoding":{
      "x":{"field":"hx","type":"quantitative","scale":{"domain":[0.324,4.32],"nice":false,"zero":false},"axis":{"values":[1,2,3,4],"tickCount":40,"labelExpr":"['Ctrl','K.aero','K.aero','K.oxy'][datum.value-1]","labelFontStyle":{"condition":{"test":"datum.value==1","value":"normal"},"value":"italic"},"title":null,"labelFontSize":8.8,"tickSize":4,"labelPadding":2,"labelFlush":false,"labelOverlap":false}},
      "y":{"field":"v","type":"quantitative","scale":{"domain":[0,66.77],"nice":false},"axis":{"values":[0,20,40,60],"format":"d","title":"HA  level (ng/ml)","labelFontSize":9.5,"tickSize":5,"labelPadding":2,"titleX":-16,"titleY":75.7,"titleBaseline":"bottom","titleAngle":-90,"titleAlign":"center","domain":false}},
      "y2":{"datum":0},
      "color":{"field":"grp","type":"nominal","scale":{"domain":["Ctrl","K.aero","K.aero-HDC","K.oxy"],"range":["#4fb8a5","#f3767f","#f0a044","#5f55f8"]},"legend":null}}},
    {"data":{"name":"hbar"},"mark":{"type":"rule","strokeWidth":1.3},
     "encoding":{"x":{"field":"hx","type":"quantitative"},"y":{"field":"v","type":"quantitative"},"y2":{"field":"hi"},"color":{"field":"grp","type":"nominal","legend":null}}},
    {"data":{"name":"hbar"},"mark":{"type":"tick","orient":"horizontal","size":15,"thickness":1.3,"opacity":1},
     "encoding":{"x":{"field":"hx","type":"quantitative"},"y":{"field":"hi","type":"quantitative"},"color":{"field":"grp","type":"nominal","legend":null}}},
    {"data":{"name":"hbrk"},"mark":{"type":"rule","color":"#111","strokeWidth":1.2},
     "encoding":{"x":{"field":"x1","type":"quantitative"},"x2":{"field":"x2"},"y":{"field":"y","type":"quantitative"}}},
    {"data":{"name":"hbrk"},"mark":{"type":"text","fontSize":14,"fontWeight":"bold","color":"#111","baseline":"alphabetic","dy":2},
     "encoding":{"x":{"field":"m","type":"quantitative"},"y":{"field":"y","type":"quantitative"},"text":{"field":"lab"}}},
    {"data":{"values":[{"x1":2.87,"x2":4.17,"y":20.5,"m":3.5,"lab":"p=0.11"}]},"mark":{"type":"rule","color":"#111","strokeWidth":1.2},
     "encoding":{"x":{"field":"x1","type":"quantitative"},"x2":{"field":"x2"},"y":{"field":"y","type":"quantitative"}}},
    {"data":{"values":[{"x1":2.87,"x2":4.17,"y":20.5,"m":3.5,"lab":"p=0.11"}]},"mark":{"type":"text","fontSize":9.5,"color":"#111","baseline":"alphabetic","dy":-4},
     "encoding":{"x":{"field":"m","type":"quantitative"},"y":{"field":"y","type":"quantitative"},"text":{"field":"lab"}}},
    {"data":{"values":[{"x":2.93,"y":-8.9,"t":"-HDC"}]},"mark":{"type":"text","fontSize":6.5,"fontStyle":"italic","baseline":"middle","color":"#111"},
     "encoding":{"x":{"field":"x","type":"quantitative"},"y":{"field":"y","type":"quantitative"},"text":{"field":"t"}}},
    {"data":{"values":[{}]},"mark":{"type":"rule","color":"#222","strokeWidth":1},"encoding":{"x":{"datum":0.324,"type":"quantitative"},"y":{"datum":0,"type":"quantitative"},"y2":{"datum":60}}}
   ]}
 ],"spacing":0,"bounds":"flush","resolve":{"scale":{"color":"independent","size":"independent"},"legend":{"color":"independent","size":"independent"}}}
]
}
